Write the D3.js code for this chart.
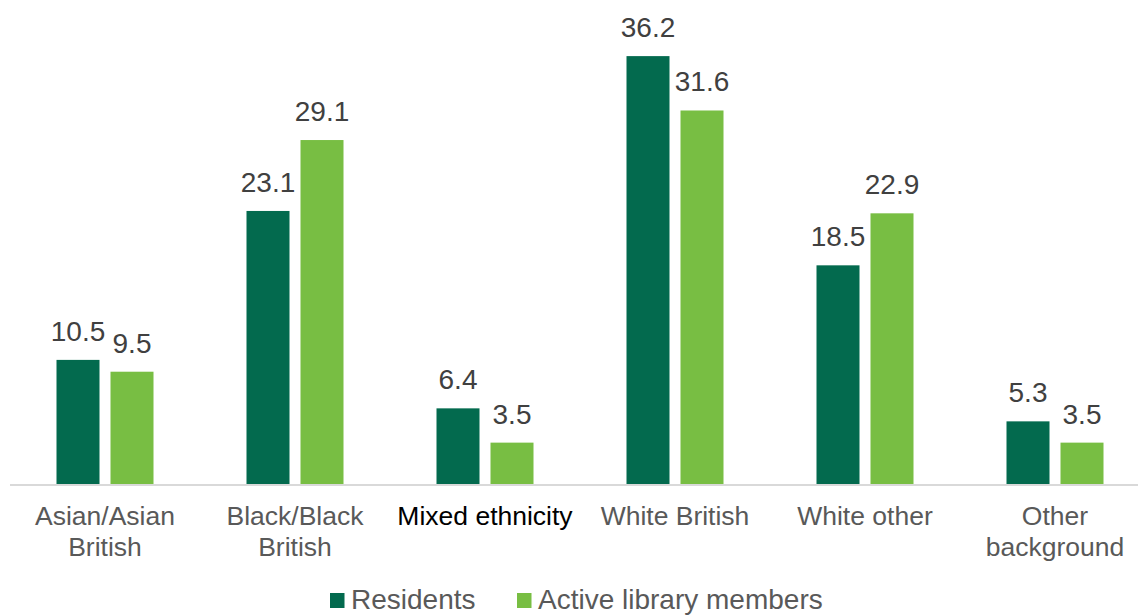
<!DOCTYPE html>
<html>
<head>
<meta charset="utf-8">
<script src="https://cdn.jsdelivr.net/npm/d3@7"></script>
<style>
  body { margin: 0; background: #fff; }
  text { font-family: "Liberation Sans", Arial, sans-serif; }
</style>
</head>
<body>
<script>
const categories = ['Asian/Asian British', 'Black/Black British', 'Mixed ethnicity', 'White British', 'White other', 'Other background'];
const categoryLines = [['Asian/Asian', 'British'], ['Black/Black', 'British'], ['Mixed ethnicity'], ['White British'], ['White other'], ['Other', 'background']];
const series = ['Residents', 'Active library members'];
const residents = [10.5, 23.1, 6.4, 36.2, 18.5, 5.3];
const members = [9.5, 29.1, 3.5, 31.6, 22.9, 3.5];

const width = 1138;
const height = 615;
const baseline = 484;
const colors = ['#036A4E', '#78BE43'];

const data = categories.map((c, i) => ({ category: c, values: [residents[i], members[i]] }));

const svg = d3.select('body')
  .append('svg')
  .attr('width', width)
  .attr('height', height);

const x0 = d3.scaleBand()
  .domain(categories)
  .range([10, 1150]);

const x1 = d3.scaleBand()
  .domain(series)
  .range([x0.bandwidth() / 2 - 48.5, x0.bandwidth() / 2 + 48.5])
  .paddingInner(2 - 97 / 54);

const y = d3.scaleLinear()
  .domain([0, 40])
  .range([baseline, baseline - 40 * 11.82]);

const groups = svg.append('g')
  .selectAll('g')
  .data(data)
  .enter()
  .append('g')
  .attr('transform', (d) => 'translate(' + x0(d.category) + ',0)');

groups.selectAll('rect')
  .data((d) => d.values.map((v, j) => ({ key: series[j], value: v, j: j })))
  .enter()
  .append('rect')
  .attr('x', (d) => x1(d.key))
  .attr('y', (d) => y(d.value))
  .attr('width', x1.bandwidth())
  .attr('height', (d) => baseline - y(d.value))
  .style('fill', (d) => colors[d.j]);

groups.selectAll('text.value')
  .data((d) => d.values.map((v, j) => ({ key: series[j], value: v })))
  .enter()
  .append('text')
  .attr('class', 'value')
  .attr('x', (d) => x1(d.key) + x1.bandwidth() / 2)
  .attr('y', (d) => y(d.value) - 19)
  .style('text-anchor', 'middle')
  .style('font-size', '28px')
  .style('fill', '#404040')
  .text((d) => d.value.toFixed(1));

// axis line
svg.append('line')
  .attr('x1', 10)
  .attr('x2', width)
  .attr('y1', baseline + 1)
  .attr('y2', baseline + 1)
  .style('stroke', '#d9d9d9')
  .style('stroke-width', 2);

// category labels
svg.append('g')
  .selectAll('text')
  .data(categories)
  .enter()
  .append('text')
  .attr('x', (d) => x0(d) + x0.bandwidth() / 2)
  .attr('y', 525)
  .style('text-anchor', 'middle')
  .style('font-size', '26.5px')
  .style('fill', (d) => d === 'Mixed ethnicity' ? '#000' : '#595959')
  .each(function (d, i) {
    d3.select(this).selectAll('tspan')
      .data(categoryLines[i])
      .enter()
      .append('tspan')
      .attr('x', x0(d) + x0.bandwidth() / 2)
      .attr('dy', (t, k) => k === 0 ? 0 : 31)
      .text((t) => t);
  });

// legend
const legend = svg.append('g')
  .selectAll('g')
  .data(series)
  .enter()
  .append('g')
  .attr('transform', (d, i) => 'translate(' + (i === 0 ? 330 : 517) + ',0)');

legend.append('rect')
  .attr('y', 593)
  .attr('width', 14.5)
  .attr('height', 15)
  .style('fill', (d, i) => colors[i]);

legend.append('text')
  .attr('x', 21)
  .attr('y', 608.5)
  .style('font-size', '28px')
  .style('fill', '#595959')
  .text((d) => d);
</script>
</body>
</html>
